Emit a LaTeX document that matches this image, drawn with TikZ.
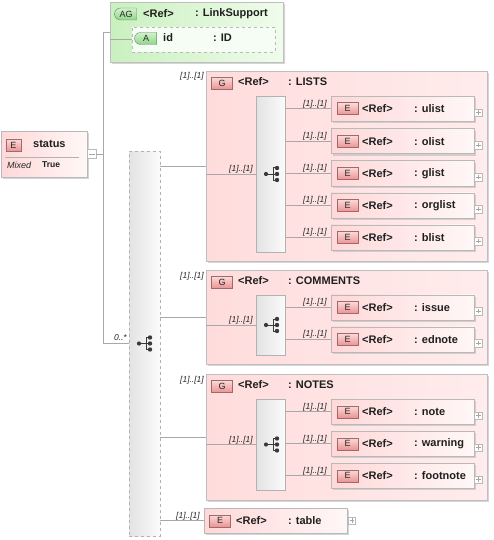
\documentclass[tikz,border=0pt]{standalone}
\usepackage{fontspec}
\setmainfont{Liberation Sans}
\usetikzlibrary{shapes.misc,shadows}
\definecolor{pinkA}{HTML}{FFD8D8}
\definecolor{pinkB}{HTML}{FFF7F7}
\definecolor{grpA}{HTML}{FFDCDC}
\definecolor{grpB}{HTML}{FFECEC}
\definecolor{badgeT}{HTML}{FBDCDC}
\definecolor{badgeB}{HTML}{EC9494}
\definecolor{badgeD}{HTML}{A06A6A}
\definecolor{greenA}{HTML}{C9F0BF}
\definecolor{greenB}{HTML}{F0FCEC}
\definecolor{gbadgeT}{HTML}{D2F2CC}
\definecolor{gbadgeB}{HTML}{8FD68A}
\definecolor{gbadgeD}{HTML}{5E8A5E}
\definecolor{iconC}{HTML}{3A3A3A}
\definecolor{lineC}{HTML}{A8A8A8}
\begin{document}
\begin{tikzpicture}[x=1pt,y=-1pt,
  conn/.style={draw=lineC, line width=0.7pt},
  shad/.style={drop shadow={shadow xshift=2pt,shadow yshift=-2pt,fill=gray!55,opacity=0.6}},
  ebox/.style={rectangle, draw=gray!55, left color=pinkA, right color=pinkB, inner sep=0, anchor=north west, shad},
  grp/.style={rectangle, draw=gray!50, left color=grpA, right color=grpB, inner sep=0, anchor=north west, shad},
  seqbox/.style={rectangle, draw=gray!60, left color=gray!22, right color=gray!3, inner sep=0, anchor=north west},
  ebadge/.style={rectangle, draw=badgeD, top color=badgeT, bottom color=badgeB, inner sep=0, minimum width=21pt, minimum height=12pt, font=\fontsize{9}{9}\selectfont, text=black!85},
  gbadge/.style={rounded rectangle, rounded rectangle right arc=none, draw=gbadgeD, top color=gbadgeT, bottom color=gbadgeB, inner sep=0, minimum width=22pt, minimum height=12pt, font=\fontsize{9}{9}\selectfont, text=black!85},
  lbl/.style={anchor=west, inner sep=0, font=\fontsize{11}{11}\selectfont\bfseries, text=black!88},
  mult/.style={anchor=base east, inner sep=0, font=\fontsize{8.5}{8.5}\selectfont\itshape, text=black!85},
  plusbox/.style={rectangle, draw=gray!55, fill=white, minimum size=7.5pt, inner sep=0,
    path picture={\draw[gray!70, line width=0.5pt] ([xshift=1.5pt]path picture bounding box.west) -- ([xshift=-1.5pt]path picture bounding box.east)
      ([yshift=-1.5pt]path picture bounding box.north) -- ([yshift=1.5pt]path picture bounding box.south);}},
  seqicon/.pic={
    \draw[iconC, line width=1pt] (-5.5,0) -- (1.5,0) (1.5,-6) -- (1.5,6) -- (5.5,6) (1.5,-6) -- (5.5,-6) (1.5,0) -- (5.5,0);
    \fill[iconC] (-5.5,0) circle (2.1);
    \fill[iconC] (5.5,-6) circle (2.2) (5.5,0) circle (2.2) (5.5,6) circle (2.2);
  }
]
\useasboundingbox (0,0) rectangle (494,540);

% ---------- status element ----------
\node[ebox, minimum width=86pt, minimum height=46pt] (status) at (1,131) {};
\node[ebadge, minimum width=15pt] (statusE) at (13.5,145) {E};
\node[lbl] (statusT) at (33,144) {status};
\draw[gray!60, line width=0.6pt] (5,157) -- (79,157);
\node[anchor=west, inner sep=0, font=\fontsize{9}{9}\selectfont\itshape, text=black!85] (mixed) at (7,165) {Mixed};
\node[anchor=west, inner sep=0, font=\fontsize{8.5}{8.5}\selectfont\bfseries, text=black!88] (true) at (42,165) {True};
\node[rectangle, draw=gray!55, fill=white, minimum size=9pt, inner sep=0,
  path picture={\draw[gray!70, line width=0.5pt] ([xshift=1.5pt]path picture bounding box.west) -- ([xshift=-1.5pt]path picture bounding box.east);}]
  (minus) at (91.5,154) {};

\coordinate (vtop) at (103,32);
\coordinate (vbot) at (103,343);

% ---------- attribute group ----------
\node[chamfered rectangle, chamfered rectangle corners={north west,north east,south west},
  chamfered rectangle xsep=5pt, chamfered rectangle ysep=5pt,
  draw=gray!50, left color=greenA, right color=greenB, inner sep=0,
  minimum width=173pt, minimum height=60pt, shad] (ag) at (196.5,32) {};
\node[gbadge] (agB) at (126,14) {AG};
\node[lbl] (agR) at (143,14) {<Ref>};
\node[lbl] (agN) at (195,14) {: LinkSupport};
\node[chamfered rectangle, chamfered rectangle corners={north west,north east,south west},
  chamfered rectangle xsep=4pt, chamfered rectangle ysep=4pt,
  draw=gray!55, dashed, fill=greenB!60!white, inner sep=0,
  minimum width=143pt, minimum height=25pt] (attr) at (203.5,39.5) {};
\node[gbadge] (attrB) at (146,38.5) {A};
\node[lbl] (attrN) at (163,38) {id};
\node[lbl] (attrT) at (213,38) {: ID};

% ---------- outer sequence ----------
\node[seqbox, dashed, minimum width=31pt, minimum height=385pt] (oseq) at (129,151) {};
\pic at (144.5,343.5) {seqicon};

% connectors from status
\draw[conn] (minus.east) -- (minus.east -| vtop);
\draw[conn] (ag.west |- vtop) -- (vtop) -- (vbot) -- (oseq.west |- vbot);
\draw[conn] (ag.west |- attr) -- (attr.west);
\node[mult] (m0) at ([xshift=-2pt,yshift=2.5pt]oseq.west |- vbot) {0..*};

% ---------- LISTS group ----------
\node[grp, minimum width=281pt, minimum height=190pt] (lists) at (206,71) {};
\node[ebadge] (listsG) at (222,83) {G};
\node[lbl] (listsR) at (238,82) {<Ref>};
\node[lbl] (listsN) at (288,82) {: LISTS};
\node[mult] (listsM) at (204,79) {[1]..[1]};
\node[seqbox, minimum width=29pt, minimum height=156pt] (lseq) at (256,96) {};
\pic at (271.5,174) {seqicon};
\coordinate (lists-in) at (206,166);
\draw[conn] (oseq.east |- lists-in) -- (lists-in);
\draw[conn] (lists.west |- lseq) -- (lseq.west);
\node[mult] at ([xshift=-3pt,yshift=2.5pt]lseq.west) {[1]..[1]};

\foreach \nm/\tp in {ulist/96, olist/128.5, glist/160.5, orglist/192.5, blist/224.5}{
  \node[ebox, minimum width=143pt, minimum height=25pt] (c-\nm) at (331,\tp) {};
  \node[ebadge] at ([xshift=16.5pt]c-\nm.west) {E};
  \node[lbl] at ([xshift=31pt]c-\nm.west) {<Ref>};
  \node[lbl] at ([xshift=83pt]c-\nm.west) {: \nm};
  \node[plusbox] at ([xshift=4pt,yshift=-4pt]c-\nm.east) {};
  \draw[conn] (lseq.east |- c-\nm.west) -- (c-\nm.west);
  \node[mult] at ([xshift=-4pt,yshift=2.5pt]c-\nm.west) {[1]..[1]};
}

% ---------- COMMENTS group ----------
\node[grp, minimum width=281pt, minimum height=94pt] (comments) at (206,270) {};
\node[ebadge] (commentsG) at (222,282) {G};
\node[lbl] (commentsR) at (238,281) {<Ref>};
\node[lbl] (commentsN) at (288,281) {: COMMENTS};
\node[mult] (commentsM) at (204,278) {[1]..[1]};
\node[seqbox, minimum width=29pt, minimum height=60pt] (cseq) at (256,295) {};
\pic at (271.5,325) {seqicon};
\coordinate (comments-in) at (206,317);
\draw[conn] (oseq.east |- comments-in) -- (comments-in);
\draw[conn] (comments.west |- cseq) -- (cseq.west);
\node[mult] at ([xshift=-3pt,yshift=2.5pt]cseq.west) {[1]..[1]};

\foreach \nm/\tp in {issue/294.5, ednote/326.5}{
  \node[ebox, minimum width=143pt, minimum height=25pt] (c-\nm) at (331,\tp) {};
  \node[ebadge] at ([xshift=16.5pt]c-\nm.west) {E};
  \node[lbl] at ([xshift=31pt]c-\nm.west) {<Ref>};
  \node[lbl] at ([xshift=83pt]c-\nm.west) {: \nm};
  \node[plusbox] at ([xshift=4pt,yshift=-4pt]c-\nm.east) {};
  \draw[conn] (cseq.east |- c-\nm.west) -- (c-\nm.west);
  \node[mult] at ([xshift=-4pt,yshift=2.5pt]c-\nm.west) {[1]..[1]};
}

% ---------- NOTES group ----------
\node[grp, minimum width=281pt, minimum height=126pt] (notes) at (206,374) {};
\node[ebadge] (notesG) at (222,386) {G};
\node[lbl] (notesR) at (238,385) {<Ref>};
\node[lbl] (notesN) at (288,385) {: NOTES};
\node[mult] (notesM) at (204,382) {[1]..[1]};
\node[seqbox, minimum width=29pt, minimum height=91pt] (nseq) at (256,399) {};
\pic at (271.5,444.5) {seqicon};
\coordinate (notes-in) at (206,437);
\draw[conn] (oseq.east |- notes-in) -- (notes-in);
\draw[conn] (notes.west |- nseq) -- (nseq.west);
\node[mult] at ([xshift=-3pt,yshift=2.5pt]nseq.west) {[1]..[1]};

\foreach \nm/\tp in {note/399, warning/431, footnote/463}{
  \node[ebox, minimum width=143pt, minimum height=25pt] (c-\nm) at (331,\tp) {};
  \node[ebadge] at ([xshift=16.5pt]c-\nm.west) {E};
  \node[lbl] at ([xshift=31pt]c-\nm.west) {<Ref>};
  \node[lbl] at ([xshift=83pt]c-\nm.west) {: \nm};
  \node[plusbox] at ([xshift=4pt,yshift=-4pt]c-\nm.east) {};
  \draw[conn] (nseq.east |- c-\nm.west) -- (c-\nm.west);
  \node[mult] at ([xshift=-4pt,yshift=2.5pt]c-\nm.west) {[1]..[1]};
}

% ---------- table ----------
\node[ebox, minimum width=143pt, minimum height=25pt] (table) at (204,508) {};
\node[ebadge] (tableE) at ([xshift=16pt]table.west) {E};
\node[lbl] (tableR) at ([xshift=32pt]table.west) {<Ref>};
\node[lbl] (tableN) at ([xshift=84pt]table.west) {: table};
\node[plusbox] (tableP) at ([xshift=4.5pt]table.east) {};
\draw[conn] (oseq.east |- table.west) -- (table.west);
\node[mult] (tableM) at ([xshift=-4pt,yshift=2.5pt]table.west) {[1]..[1]};
\end{tikzpicture}
\end{document}
